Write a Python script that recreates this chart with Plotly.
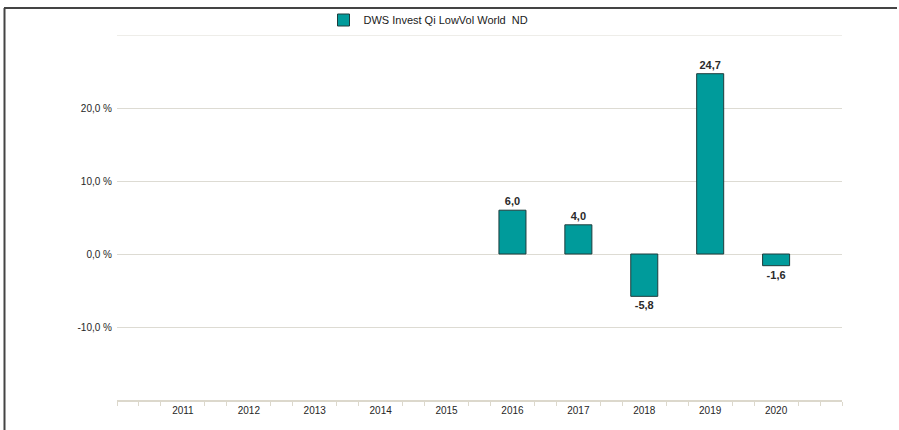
import plotly.graph_objects as go

years = [2011, 2012, 2013, 2014, 2015, 2016, 2017, 2018, 2019, 2020]
returns = [None, None, None, None, None, 6.0, 4.0, -5.8, 24.7, -1.6]
series_name = "DWS Invest Qi LowVol World  ND"
y_tickvals = [-10, 0, 10, 20, 30]
y_ticktext = ["-10,0 %", "0,0 %", "10,0 %", "20,0 %", ""]
y_min, y_max = -20, 30

x_lo, x_hi = years[0] - 1, years[-1] + 1
minor_vals = [x_lo]
for y in range(x_lo, x_hi):
    minor_vals += [y + 1/3, y + 2/3]
minor_vals.append(x_hi)

FONT = "Liberation Sans, Arial, sans-serif"
GRID = "#dddbd3"

fig = go.Figure()
fig.add_trace(go.Bar(
    x=years, y=returns, name=series_name,
    marker=dict(color="#009b9b", line=dict(color="#1e3c3c", width=1)),
    width=0.41,
    texttemplate="%{y:.1f}", textposition="outside",
    textfont=dict(size=11, color="#2a2a2a", family=FONT, weight="bold"),
    cliponaxis=False,
    showlegend=True,
))

fig.update_layout(
    width=899, height=430,
    margin=dict(l=117, r=57, t=35, b=30, autoexpand=False),
    paper_bgcolor="white", plot_bgcolor="white",
    separators=",.",
    font=dict(family=FONT, size=10, color="#333333"),
    showlegend=True,
    legend=dict(orientation="h", xref="container", yref="container",
                x=0.5 - 21/899, xanchor="center", y=1 - 20/430, yanchor="middle",
                font=dict(size=11, color="#1a1a1a"),
                itemwidth=30, bgcolor="rgba(0,0,0,0)"),
    xaxis=dict(
        range=[x_lo, x_hi], tickmode="array", tickvals=years,
        ticktext=[str(y) for y in years], ticks="", showgrid=False,
        zeroline=False, showline=True, linecolor="#dcd8cc", linewidth=2,
        tickfont=dict(size=10, color="#262626"),
        minor=dict(tickmode="array", tickvals=minor_vals, ticks="outside",
                   ticklen=4, tickwidth=1, tickcolor="#dcd8cc", showgrid=False),
    ),
    yaxis=dict(
        range=[y_min, y_max], tickmode="array", tickvals=y_tickvals, ticktext=y_ticktext,
        ticks="", showgrid=True, gridcolor=GRID, gridwidth=1,
        zeroline=False, showline=False, ticklabelstandoff=4,
        tickfont=dict(size=10, color="#262626"),
    ),
    bargap=0.59,
)

# top gridline at the upper edge of the value range
fig.add_shape(type="line", xref="paper", yref="y", x0=0, x1=1, y0=y_max, y1=y_max,
              line=dict(color=GRID, width=1), layer="below")

# frame lines (left and top) of the chart container
fig.add_shape(type="line", xref="paper", yref="paper",
              x0=(4.5-117)/725, x1=(4.5-117)/725, y0=(400-8)/365, y1=(400-432)/365,
              line=dict(color="#444444", width=2))
fig.add_shape(type="line", xref="paper", yref="paper",
              x0=(4-117)/725, x1=(897-117)/725, y0=(400-8)/365, y1=(400-8)/365,
              line=dict(color="#444444", width=2))

fig.write_html("out.html", config={"displayModeBar": False},
               post_script="document.body.style.margin='0';")
